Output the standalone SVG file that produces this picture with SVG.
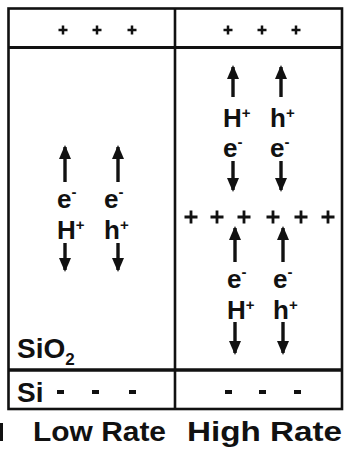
<svg xmlns="http://www.w3.org/2000/svg" width="347" height="462" viewBox="0 0 347 462">
<style>
.ln{stroke:#111;fill:none}
.t{font-family:"Liberation Sans",Arial,sans-serif;font-weight:bold;fill:#111}
.lab{font-size:26px}
.sup{font-size:15px}
.ar{stroke:#111;stroke-width:3.4;fill:none}
.pl{stroke:#111;stroke-width:2.5;fill:none}
.plb{stroke:#111;stroke-width:2.8;fill:none}
</style>
<defs>
<marker id="ahd" viewBox="0 0 12 14" refX="6" refY="12" markerWidth="12" markerHeight="14" markerUnits="userSpaceOnUse" orient="0">
<path d="M0,0 L12,0 L6,14 Z" fill="#111"/>
</marker>
<marker id="ahu" viewBox="0 0 12 14" refX="6" refY="2" markerWidth="12" markerHeight="14" markerUnits="userSpaceOnUse" orient="0">
<path d="M0,14 L12,14 L6,0 Z" fill="#111"/>
</marker>
</defs>
<rect width="347" height="462" fill="#fff"/>
<g id="frame">
<rect class="ln" x="8.5" y="8.5" width="333.5" height="400.5" stroke-width="2.6"/>
<line class="ln" x1="8" y1="47.5" x2="342" y2="47.5" stroke-width="3"/>
<line class="ln" x1="175" y1="8" x2="175" y2="409" stroke-width="2.6"/>
<line class="ln" x1="8" y1="370" x2="342" y2="370" stroke-width="3.4"/>
</g>
<g id="top-charges">
<path class="pl" d="M58.5,30h9M63,25.5v9M92.5,30h9M97,25.5v9M127.5,30h9M132,25.5v9M223.5,30h9M228,25.5v9M257.5,30h9M262,25.5v9M291.5,30h9M296,25.5v9"/>
</g>
<g id="interface-charges">
<path class="plb" d="M184.5,217h13M191,210.5v13M210.5,217h13M217,210.5v13M237.5,217h13M244,210.5v13M266.5,217h13M273,210.5v13M294.5,217h13M301,210.5v13M321.5,217h13M328,210.5v13"/>
</g>
<g id="si-charges" fill="#111">
<rect x="57" y="390" width="7" height="4"/>
<rect x="92" y="390" width="7" height="4"/>
<rect x="129" y="390" width="7" height="4"/>
<rect x="225" y="390" width="7" height="4"/>
<rect x="259" y="390" width="7" height="4"/>
<rect x="294" y="390" width="7" height="4"/>
</g>
<g id="connectors">
<line class="ar" x1="65" y1="182" x2="65" y2="147" marker-end="url(#ahu)"/>
<line class="ar" x1="118" y1="182" x2="118" y2="147" marker-end="url(#ahu)"/>
<line class="ar" x1="65" y1="243" x2="65" y2="270" marker-end="url(#ahd)"/>
<line class="ar" x1="118" y1="243" x2="118" y2="270" marker-end="url(#ahd)"/>
<line class="ar" x1="233" y1="97" x2="233" y2="67" marker-end="url(#ahu)"/>
<line class="ar" x1="281" y1="97" x2="281" y2="67" marker-end="url(#ahu)"/>
<line class="ar" x1="233" y1="161" x2="233" y2="190" marker-end="url(#ahd)"/>
<line class="ar" x1="281" y1="161" x2="281" y2="190" marker-end="url(#ahd)"/>
<line class="ar" x1="235" y1="262" x2="235" y2="228" marker-end="url(#ahu)"/>
<line class="ar" x1="283" y1="262" x2="283" y2="228" marker-end="url(#ahu)"/>
<line class="ar" x1="235" y1="322" x2="235" y2="353" marker-end="url(#ahd)"/>
<line class="ar" x1="283" y1="322" x2="283" y2="353" marker-end="url(#ahd)"/>
</g>
<g id="low-rate-labels" class="t lab">
<text x="57" y="208">e<tspan class="sup" dy="-11">-</tspan></text>
<text x="104" y="208">e<tspan class="sup" dy="-11">-</tspan></text>
<text x="57" y="239">H<tspan class="sup" dy="-9">+</tspan></text>
<text x="104" y="239">h<tspan class="sup" dy="-9">+</tspan></text>
</g>
<g id="high-rate-upper-labels" class="t lab">
<text x="223" y="127">H<tspan class="sup" dy="-9">+</tspan></text>
<text x="270" y="127">h<tspan class="sup" dy="-9">+</tspan></text>
<text x="223" y="157">e<tspan class="sup" dy="-10">-</tspan></text>
<text x="270" y="157">e<tspan class="sup" dy="-10">-</tspan></text>
</g>
<g id="high-rate-lower-labels" class="t lab">
<text x="227" y="288">e<tspan class="sup" dy="-11">-</tspan></text>
<text x="273" y="288">e<tspan class="sup" dy="-11">-</tspan></text>
<text x="227" y="319">H<tspan class="sup" dy="-9">+</tspan></text>
<text x="273" y="319">h<tspan class="sup" dy="-9">+</tspan></text>
</g>
<g id="layer-labels" class="t">
<text x="17" y="358" font-size="28">SiO<tspan font-size="17" dy="7">2</tspan></text>
<text x="17" y="402" font-size="28">Si</text>
</g>
<g id="captions" class="t">
<text x="33" y="441" font-size="27" textLength="133" lengthAdjust="spacingAndGlyphs">Low Rate</text>
<text x="187" y="441" font-size="27" textLength="155" lengthAdjust="spacingAndGlyphs">High Rate</text>
<rect x="0" y="423" width="3" height="18" fill="#111"/>
</g>
</svg>
